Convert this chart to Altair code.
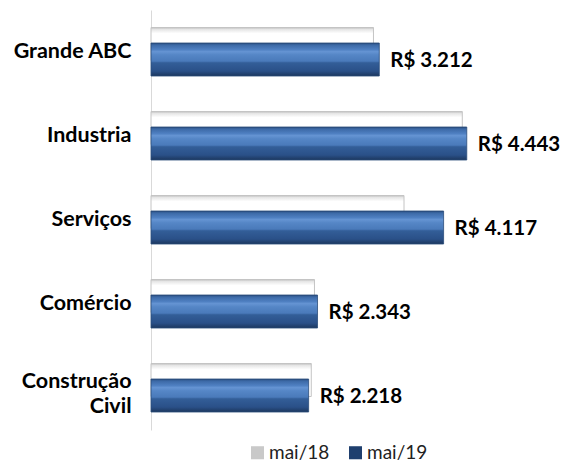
import altair as alt
import pandas as pd

categories = ["Grande ABC", "Industria", "Serviços", "Comércio", "Construção Civil"]
mai18 = [3130, 4380, 3560, 2300, 2255]
mai19 = [3212, 4443, 4117, 2343, 2218]
series = ["mai/18", "mai/19"]
series_colors = ["#c9c9c9", "#1f3f6e"]

df = pd.DataFrame({"cat": categories, "v18": mai18, "v19": mai19})
df["label"] = ["R$ " + f"{v:,}".replace(",", ".") for v in mai19]
leg = pd.DataFrame({"serie": series})

FONT = "Lato"

xs = alt.Scale(domain=[0, 5600], nice=False, zero=True)
y = alt.Y(
    "cat:N",
    sort=categories,
    scale=alt.Scale(paddingInner=0, paddingOuter=0),
    axis=alt.Axis(
        title=None, ticks=False, domainColor="#d9d9d9", domainWidth=1,
        labelFont=FONT, labelFontSize=21.5, labelFontWeight="bold",
        labelColor="#000000", labelPadding=20, labelLineHeight=25,
        labelOffset={"condition": {"test": "datum.value == 'Construção Civil'", "value": -6}, "value": 0},
        labelExpr="datum.label == 'Construção Civil' ? ['Construção', 'Civil'] : datum.label",
    ),
)

white_grad = alt.LinearGradient(
    gradient="linear", x1=0, x2=0, y1=0, y2=1,
    stops=[
        alt.GradientStop(offset=0, color="#b8b8b8"),
        alt.GradientStop(offset=0.05, color="#e4e4e4"),
        alt.GradientStop(offset=0.18, color="#ffffff"),
        alt.GradientStop(offset=1, color="#ffffff"),
    ],
)
blue_grad = alt.LinearGradient(
    gradient="linear", x1=0, x2=0, y1=0, y2=1,
    stops=[
        alt.GradientStop(offset=0, color="#27497a"),
        alt.GradientStop(offset=0.06, color="#3c69a6"),
        alt.GradientStop(offset=0.2, color="#4f80c2"),
        alt.GradientStop(offset=0.26, color="#6594d3"),
        alt.GradientStop(offset=0.36, color="#5586c6"),
        alt.GradientStop(offset=0.55, color="#4a7aba"),
        alt.GradientStop(offset=0.6, color="#335e98"),
        alt.GradientStop(offset=0.85, color="#2a5088"),
        alt.GradientStop(offset=1, color="#1c375e"),
    ],
)

white = alt.Chart(df).mark_bar(
    height=33, yOffset=-8, fill=white_grad, stroke="#c4c4c4", strokeWidth=1
).encode(x=alt.X("v18:Q", scale=xs, axis=None), y=y)

blue = alt.Chart(df).mark_bar(
    height=33, yOffset=7.5, fill=blue_grad, stroke="#2a4b7a", strokeWidth=0.8
).encode(x=alt.X("v19:Q", scale=xs, axis=None), y=y)

text = alt.Chart(df).mark_text(
    align="left", baseline="middle", dx=11, yOffset=8.5,
    font=FONT, fontSize=20.5, fontWeight="bold", color="#000000",
).encode(x=alt.X("v19:Q", scale=xs, axis=None), y=y, text="label:N")

legend_layer = alt.Chart(leg).mark_square(opacity=0).encode(
    x=alt.value(0), y=alt.value(0),
    color=alt.Color(
        "serie:N",
        scale=alt.Scale(domain=series, range=series_colors),
        legend=alt.Legend(
            orient="none", legendX=97, legendY=433, direction="horizontal",
            title=None, symbolType="square", symbolSize=170, symbolOpacity=1,
            symbolStrokeWidth=0, labelFont=FONT, labelFontSize=19,
            labelColor="#222222", columnPadding=16, labelOffset=2,
        ),
    ),
)

chart = alt.layer(white, blue, text, legend_layer).properties(
    width=398, height=420,
    autosize=alt.AutoSizeParams(type="none"),
    padding={"left": 143, "top": 2, "right": 12, "bottom": 34},
).configure_view(stroke=None)

chart.save("out.html", embed_options={"renderer": "svg", "actions": False})
